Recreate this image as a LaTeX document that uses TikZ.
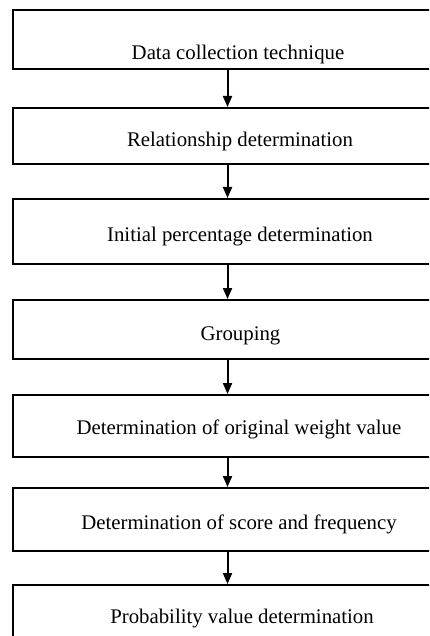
\documentclass[tikz,border=0pt]{standalone}
\usepackage{fontspec}
\setmainfont{Liberation Serif}
\usetikzlibrary{arrows.meta}
\begin{document}
\begin{tikzpicture}[x=1pt,y=-1pt,
  stepbox/.style={draw=black,line width=2.3pt,minimum width=429pt,inner sep=0pt,anchor=north},
  steplabel/.style={anchor=base,inner sep=0pt,font=\fontsize{20.8}{25}\selectfont},
  flowarrow/.style={draw=black,line width=2pt,-{Triangle[width=9pt,length=11pt]}}]
\useasboundingbox (0,0) rectangle (429,636);
\clip (0,0) rectangle (429,636);
\fill[white] (0,0) rectangle (429,636);
\node[stepbox,minimum height=59pt] (b1) at (227.5,9) {};
\node[stepbox,minimum height=56pt] (b2) at (227.5,107) {};
\node[stepbox,minimum height=65pt] (b3) at (227.5,198) {};
\node[stepbox,minimum height=59pt] (b4) at (227.5,299) {};
\node[stepbox,minimum height=62pt] (b5) at (227.5,394) {};
\node[stepbox,minimum height=63pt] (b6) at (227.5,487) {};
\node[stepbox,minimum height=80pt] (b7) at (227.5,584) {};
\node[steplabel] (t1) at (238,60) {Data collection technique};
\node[steplabel] (t2) at (240,147) {Relationship determination};
\node[steplabel] (t3) at (240,241) {Initial percentage determination};
\node[steplabel] (t4) at (240.5,340) {Grouping};
\node[steplabel] (t5) at (239,434) {Determination of original weight value};
\node[steplabel] (t6) at (239,529) {Determination of score and frequency};
\node[steplabel] (t7) at (242,623) {Probability value determination};
\draw[flowarrow] (b1.south) -- (b2.north);
\draw[flowarrow] (b2.south) -- (b3.north);
\draw[flowarrow] (b3.south) -- (b4.north);
\draw[flowarrow] (b4.south) -- (b5.north);
\draw[flowarrow] (b5.south) -- (b6.north);
\draw[flowarrow] (b6.south) -- (b7.north);
\end{tikzpicture}
\end{document}
